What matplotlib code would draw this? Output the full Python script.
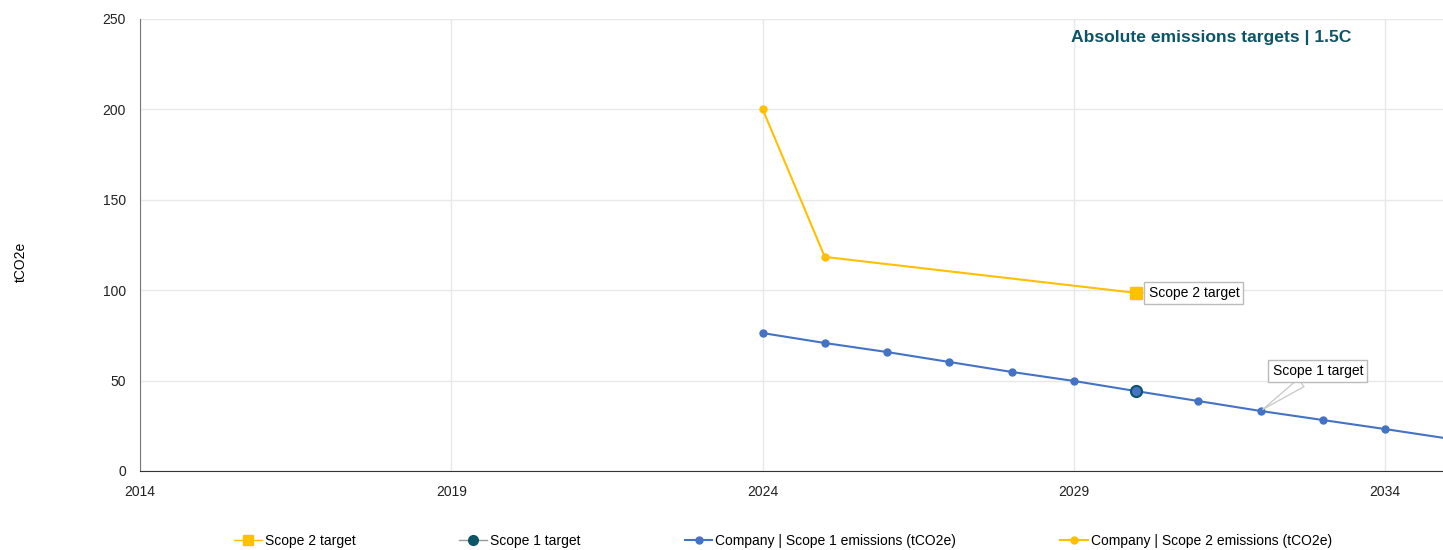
import matplotlib
matplotlib.use('Agg')
import matplotlib.pyplot as plt
from matplotlib.lines import Line2D

plt.rcParams['font.family'] = ['Liberation Sans', 'DejaVu Sans']

# emissions data (tCO2e)
years = [2024, 2025, 2026, 2027, 2028, 2029, 2030, 2031, 2032, 2033, 2034, 2035]
scope1 = [76.3, 70.8, 65.8, 60.3, 54.8, 49.8, 44.2, 38.7, 33.2, 28.2, 23.2, 18.0]
scope2_years = [2024, 2025, 2030]
scope2 = [200.2, 118.4, 98.5]

target_year = 2030
scope1_target = 44.2
scope2_target = 98.5

xticks = [2014, 2019, 2024, 2029, 2034]
yticks = [0, 50, 100, 150, 200, 250]

blue = '#4472c4'
yellow = '#ffc000'
teal = '#0b5566'

fig = plt.figure(figsize=(14.43, 5.5), dpi=100)
ax = fig.add_axes([140 / 1443, 79 / 550, 1 - 140 / 1443, 452 / 550])

ax.plot(years, scope1, color=blue, lw=1.5, marker='o', ms=5, zorder=3, clip_on=True)
ax.plot(scope2_years, scope2, color=yellow, lw=1.5, marker='o', ms=5, zorder=3)
ax.plot([target_year], [scope2_target], marker='s', color=yellow, ms=8, ls='none', zorder=4)
ax.plot([target_year], [scope1_target], marker='o', color=blue, mec=teal, mew=1.5, ms=8,
        ls='none', zorder=4)

ax.set_xlim(2014, 2034.93)
ax.set_ylim(0, 250)
ax.set_xticks(xticks)
ax.set_yticks(yticks)
ax.tick_params(length=0, labelsize=10, colors='#222222', pad=10)
ax.grid(True, color='#e8e8e8', lw=1)
ax.set_axisbelow(True)
for side in ['top', 'right']:
    ax.spines[side].set_visible(False)
ax.spines['left'].set_color('#777777')
ax.spines['bottom'].set_color('#333333')

fig.text(21 / 1443, 1 - 262 / 550, 'tCO2e', rotation=90, ha='center', va='center', fontsize=10)
ax.text(2031.2, 239.5, 'Absolute emissions targets | 1.5C', ha='center', va='center',
        fontsize=12.6, fontweight='bold', color=teal)

box = dict(boxstyle='square,pad=0.3', fc='white', ec='#bbbbbb', lw=1)
ax.annotate('Scope 2 target', xy=(target_year, scope2_target), xytext=(2030.2, scope2_target),
            ha='left', va='center', fontsize=10, bbox=box,
            arrowprops=dict(arrowstyle='-', color='#cccccc', lw=1, shrinkA=0, shrinkB=3))
ax.annotate('Scope 1 target', xy=(2032, 33.2), xytext=(2032.92, 55.3),
            ha='center', va='center', fontsize=10, bbox=box,
            arrowprops=dict(arrowstyle='wedge,tail_width=0.7', fc='white', ec='#cccccc',
                            lw=1, shrinkA=0, shrinkB=2))

handles = [
    Line2D([], [], color=yellow, lw=1, marker='s', ms=7),
    Line2D([], [], color='#999999', lw=1, marker='o', mfc=teal, mec=teal, ms=7),
    Line2D([], [], color=blue, lw=1.5, marker='o', ms=5),
    Line2D([], [], color=yellow, lw=1.5, marker='o', ms=5),
]
labels = ['Scope 2 target', 'Scope 1 target',
          'Company | Scope 1 emissions (tCO2e)', 'Company | Scope 2 emissions (tCO2e)']
fig.legend(handles, labels, loc='center', bbox_to_anchor=(783 / 1443, 1 - 541 / 550),
           ncol=4, frameon=False, fontsize=10, handlelength=2, handletextpad=0.2,
           columnspacing=7.5)

fig.savefig('out.png', dpi=100)
